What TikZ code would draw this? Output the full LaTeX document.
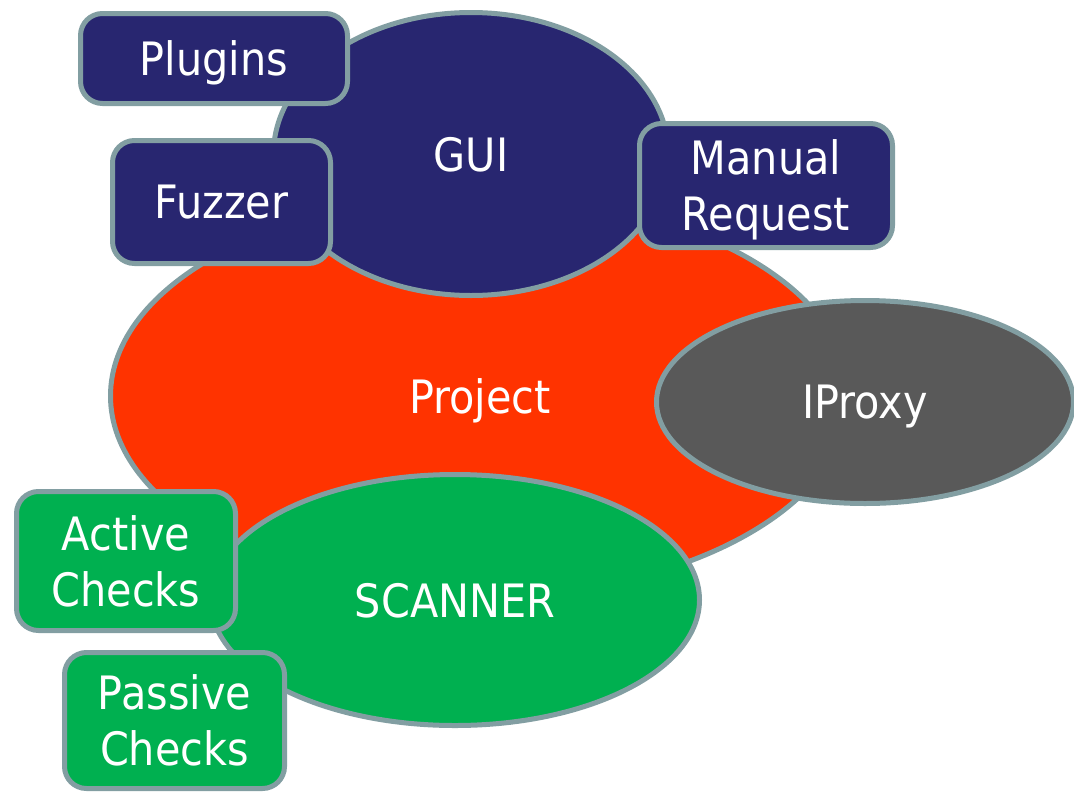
\documentclass[tikz,border=0pt]{standalone}
\usepackage{fontspec}
\setmainfont{DejaVu Sans}[FakeStretch=0.9]
\usetikzlibrary{shapes.geometric}
\definecolor{rim}{RGB}{130,158,162}
\definecolor{guiblue}{RGB}{40,38,112}
\definecolor{projred}{RGB}{255,51,0}
\definecolor{scangreen}{RGB}{0,176,80}
\definecolor{proxygray}{RGB}{89,89,89}
\begin{document}
\begin{tikzpicture}[x=1pt, y=-1pt,
		blob/.style = {draw=rim, line width=5pt, ellipse, inner sep=0pt, text=white, text depth=0pt, font=\fontsize{46}{56}\selectfont},
		tag/.style = {draw=rim, line width=5pt, rounded corners=22pt, inner sep=0pt, align=center, text=white, text depth=0pt, font=\fontsize{46}{56}\selectfont}]
		\useasboundingbox (0,0) rectangle (1074,793);
		%% NODES
		% Core
		\node[blob, fill=projred, minimum width=739pt, minimum height=401pt] (proj) at (480,396) {Project};
		\node[blob, fill=guiblue, minimum width=395pt, minimum height=283pt, node distance=242pt, above of = proj, xshift=-9pt] (gui) {GUI};
		\node[blob, fill=scangreen, minimum width=489pt, minimum height=251pt, node distance=204pt, below of = proj, xshift=-25pt] (scan) {SCANNER};
		\node[blob, fill=proxygray, minimum width=417pt, minimum height=203pt, node distance=385pt, right of = proj, yshift=-6pt] (proxy) {IProxy};
		% GUI parts
		\node[tag, fill=guiblue, minimum width=267pt, minimum height=90pt, node distance=257pt, left of = gui, yshift=95.5pt] (plugins) {Plugins};
		\node[tag, fill=guiblue, minimum width=218pt, minimum height=123pt, node distance=249.5pt, left of = gui, yshift=-48pt] (fuzzer) {Fuzzer};
		\node[tag, fill=guiblue, minimum width=253pt, minimum height=124pt, node distance=295pt, right of = gui, yshift=-31.5pt] (manual) {Manual\\Request};
		% Scanner parts
		\node[tag, fill=scangreen, minimum width=219pt, minimum height=139pt, node distance=329pt, left of = scan, yshift=39pt] (active) {Active\\Checks};
		\node[tag, fill=scangreen, minimum width=220pt, minimum height=136pt, node distance=280.5pt, left of = scan, yshift=-120.5pt] (passive) {Passive\\Checks};
	\end{tikzpicture}
\end{document}
